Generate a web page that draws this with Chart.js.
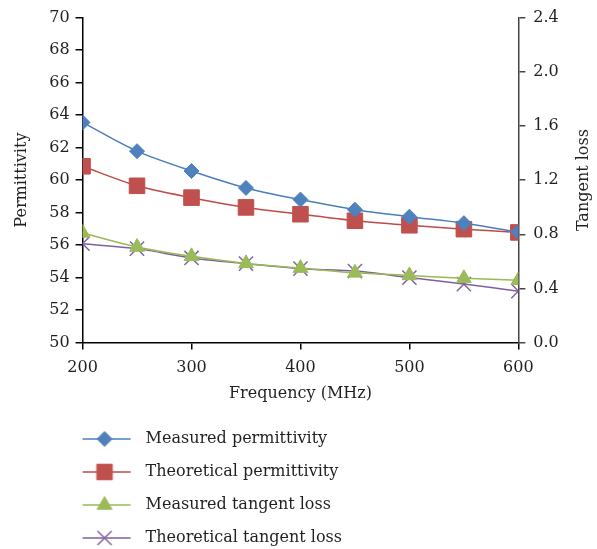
<!DOCTYPE html>
<html>
<head>
<meta charset="utf-8">
<script src="https://cdn.jsdelivr.net/npm/chart.js@4/dist/chart.umd.min.js"></script>
<style>
  html, body { margin: 0; padding: 0; background: #ffffff; }
  #wrap { width: 597px; height: 549px; position: relative; }
</style>
</head>
<body>
<div id="wrap"><canvas id="c" width="597" height="549"></canvas></div>
<script>
const frequencies = [200, 250, 300, 350, 400, 450, 500, 550, 600];
const measuredPermittivity = [63.55, 61.78, 60.56, 59.52, 58.8, 58.18, 57.75, 57.35, 56.8];
const theoreticalPermittivity = [60.85, 59.65, 58.92, 58.32, 57.9, 57.5, 57.22, 56.98, 56.78];
const measuredTangentLoss = [0.81, 0.706, 0.637, 0.585, 0.55, 0.515, 0.496, 0.475, 0.46];
const theoreticalTangentLoss = [0.73, 0.694, 0.625, 0.583, 0.546, 0.528, 0.48, 0.432, 0.38];
const seriesNames = ["Measured permittivity", "Theoretical permittivity", "Measured tangent loss", "Theoretical tangent loss"];
const permittivityTicks = [50, 70, 2];
const tangentTicks = [0, 2.4, 0.4];
const frequencyTicks = [200, 600, 100];

const FONT = "'DejaVu Serif', 'Liberation Serif', serif";
const FSIZE = 16;
const TXT = '#231f20';

function pts(ys) { return frequencies.map((f, i) => ({ x: f, y: ys[i] })); }

const styles = [
  { color: '#4a7ebb', fill: '#4f81bd', pointStyle: 'rectRot', radius: 7.5, axis: 'y' },
  { color: '#be4b48', fill: '#c0504d', pointStyle: 'rect', radius: 11, axis: 'y' },
  { color: '#98b954', fill: '#9bbb59', pointStyle: 'triangle', radius: 8.5, axis: 'y1' },
  { color: '#7d60a0', fill: '#8064a2', pointStyle: 'crossRot', radius: 10, axis: 'y1' }
];
const values = [measuredPermittivity, theoreticalPermittivity, measuredTangentLoss, theoreticalTangentLoss];

const datasets = values.map((v, i) => {
  const s = styles[i];
  const isCross = s.pointStyle === 'crossRot';
  return {
    label: seriesNames[i],
    data: pts(v),
    yAxisID: s.axis,
    borderColor: s.color,
    backgroundColor: s.fill,
    borderWidth: 1.5,
    tension: 0.3,
    pointStyle: s.pointStyle,
    pointRadius: s.radius,
    pointHoverRadius: s.radius,
    pointBackgroundColor: s.fill,
    pointBorderColor: s.fill,
    pointBorderWidth: isCross ? 1.5 : 1
  };
});

// Legend sample images: a short line with the marker in its middle
const LEG_BOX = 38, LEG_PAD = 17, LINE_LEN = 52, LEG_SHIFT = 4;
function legendImage(i) {
  const s = styles[i];
  const cv = document.createElement('canvas');
  const half = LEG_PAD + LEG_BOX / 2 + LEG_SHIFT;
  cv.width = Math.round(2 * half); cv.height = 26;
  const ctx = cv.getContext('2d');
  const cy = 13;
  ctx.strokeStyle = s.color; ctx.lineWidth = 1.5;
  ctx.beginPath(); ctx.moveTo(0, cy); ctx.lineTo(LINE_LEN, cy); ctx.stroke();
  ctx.fillStyle = s.fill; ctx.strokeStyle = s.fill;
  ctx.lineWidth = s.pointStyle === 'crossRot' ? 1.5 : 1;
  Chart.helpers.drawPoint(ctx, { pointStyle: s.pointStyle, radius: s.radius, rotation: 0, borderWidth: ctx.lineWidth }, LINE_LEN / 2, cy);
  return cv;
}
const legendImages = styles.map((s, i) => legendImage(i));

// Right axis title reads bottom-to-top, like the left one
const rightTitlePlugin = {
  id: 'rightTitle',
  afterDraw(chart) {
    const sc = chart.scales.y1;
    const ctx = chart.ctx;
    ctx.save();
    ctx.font = FSIZE + 'px ' + FONT;
    ctx.fillStyle = TXT;
    ctx.textAlign = 'center';
    ctx.textBaseline = 'middle';
    const lh = FSIZE * 1.2;
    ctx.translate(sc.right - lh / 2, (sc.top + sc.bottom) / 2);
    ctx.rotate(-Math.PI / 2);
    ctx.fillText('Tangent loss', 0, 0);
    ctx.restore();
  }
};

new Chart(document.getElementById('c'), {
  type: 'line',
  data: { datasets },
  plugins: [rightTitlePlugin],
  options: {
    responsive: false,
    animation: false,
    devicePixelRatio: 1,
    layout: { padding: { left: 12, right: 4, top: 12, bottom: -7 } },
    plugins: {
      tooltip: { enabled: false },
      legend: {
        position: 'bottom',
        align: 'start',
        fullSize: false,
        labels: {
          usePointStyle: true,
          pointStyleWidth: LEG_BOX,
          padding: LEG_PAD,
          color: TXT,
          font: { family: FONT, size: FSIZE },
          generateLabels: (chart) => chart.data.datasets.map((d, i) => ({
            text: d.label,
            pointStyle: legendImages[i],
            fillStyle: d.backgroundColor,
            strokeStyle: d.borderColor,
            lineWidth: 0,
            hidden: false,
            datasetIndex: i,
            fontColor: TXT
          }))
        }
      }
    },
    scales: {
      x: {
        type: 'linear',
        min: frequencyTicks[0], max: frequencyTicks[1],
        ticks: { stepSize: frequencyTicks[2], color: TXT, font: { family: FONT, size: FSIZE }, padding: 9 },
        grid: { drawOnChartArea: false, tickLength: 7, color: '#000', lineWidth: 1.5 },
        border: { color: '#000', width: 1.5 },
        title: { display: true, text: 'Frequency (MHz)', color: TXT, font: { family: FONT, size: FSIZE }, padding: { top: -3, bottom: 11 } }
      },
      y: {
        position: 'left',
        min: permittivityTicks[0], max: permittivityTicks[1],
        ticks: { stepSize: permittivityTicks[2], color: TXT, font: { family: FONT, size: FSIZE }, padding: 6 },
        grid: { drawOnChartArea: false, tickLength: 7, color: '#000', lineWidth: 1.5 },
        border: { color: '#000', width: 1.5 },
        title: { display: true, text: 'Permittivity', color: TXT, font: { family: FONT, size: FSIZE }, padding: { top: 0, bottom: 12 } }
      },
      y1: {
        position: 'right',
        min: tangentTicks[0], max: tangentTicks[1],
        ticks: { stepSize: tangentTicks[2], color: TXT, font: { family: FONT, size: FSIZE }, padding: 8, callback: (v) => Number(v).toFixed(1) },
        grid: { drawOnChartArea: false, tickLength: 7, color: '#444', lineWidth: 1.5 },
        border: { color: '#444', width: 1.5 },
        title: { display: true, text: 'Tangent loss', color: 'rgba(0,0,0,0)', font: { family: FONT, size: FSIZE }, padding: { top: 7, bottom: 0 } }
      }
    }
  }
});
</script>
</body>
</html>
